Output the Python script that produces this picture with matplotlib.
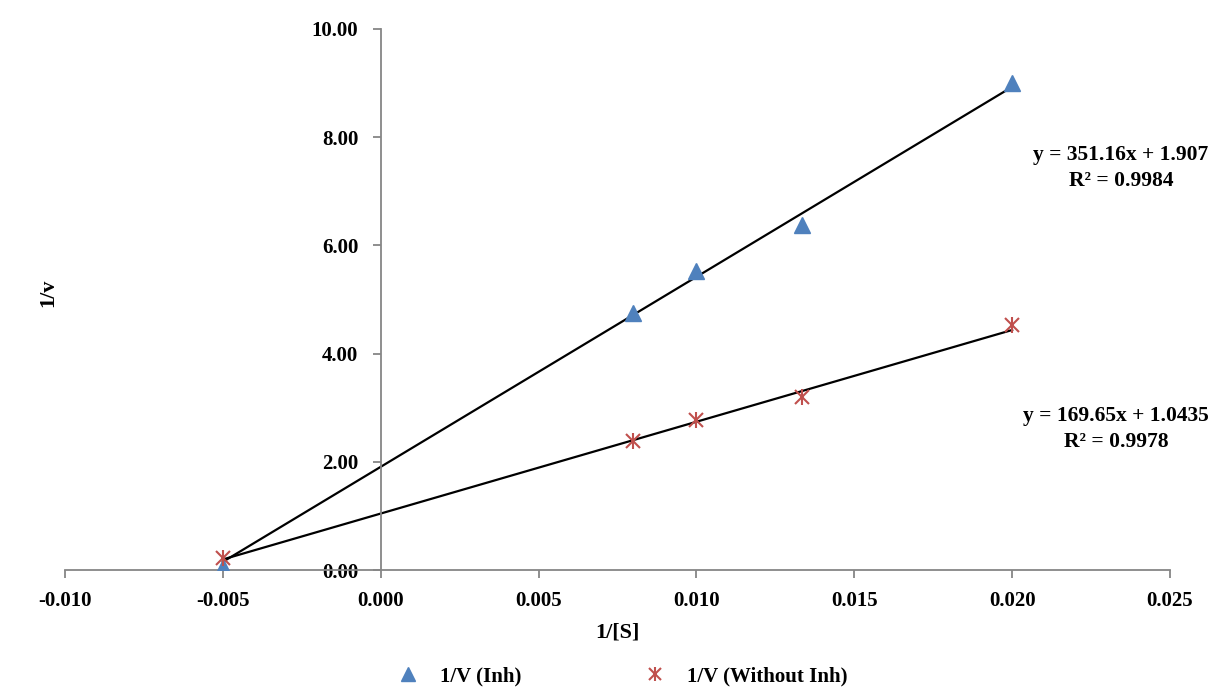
import matplotlib
matplotlib.use("Agg")
import matplotlib.pyplot as plt
import numpy as np
from matplotlib.legend_handler import HandlerTuple

# Data
inv_s = [-0.005, 0.008, 0.010, 0.01333, 0.020]
inv_v_inh = [0.05, 4.75, 5.52, 6.37, 9.00]
inv_v_without = [0.23, 2.39, 2.78, 3.19, 4.52]
fit_inh = (351.16, 1.907)
fit_without = (169.65, 1.0435)
eq_inh = "y = 351.16x + 1.907\nR² = 0.9984"
eq_without = "y = 169.65x + 1.0435\nR² = 0.9978"
x_ticks = [-0.010, -0.005, 0.000, 0.005, 0.010, 0.015, 0.020, 0.025]
y_ticks = [0, 2, 4, 6, 8, 10]

plt.rcParams['font.family'] = ['Liberation Serif', 'DejaVu Serif']
plt.rcParams['font.weight'] = 'bold'

fig = plt.figure(figsize=(12.12, 6.88), dpi=100)
ax = fig.add_axes([65/1212, 1-570/688, (1170-65)/1212, (570-29)/688])

blue = '#4F81BD'
red = '#C0504D'
axc = '#868686'

xf = np.array([min(inv_s), max(inv_s)])
ax.plot(xf, fit_inh[0]*xf + fit_inh[1], color='black', lw=1.6, zorder=2)
ax.plot(xf, fit_without[0]*xf + fit_without[1], color='black', lw=1.6, zorder=2)

h1, = ax.plot(inv_s, inv_v_inh, linestyle='none', marker='^', ms=12, color=blue, mec=blue, zorder=3)
h2a, = ax.plot(inv_s, inv_v_without, linestyle='none', marker='x', ms=10, mew=1.5, color=red, zorder=4, clip_on=False)
h2b, = ax.plot(inv_s, inv_v_without, linestyle='none', marker='|', ms=12, mew=1.5, color=red, zorder=4, clip_on=False)

ax.set_xlim(-0.010, 0.025)
ax.set_ylim(0, 10)
ax.set_xticks(x_ticks)
ax.set_xticklabels([f"{t:.3f}" for t in x_ticks])
ax.set_yticks(y_ticks)
ax.set_yticklabels([f"{t:.2f}" for t in y_ticks])

for s in ['top', 'right']:
    ax.spines[s].set_visible(False)
ax.spines['left'].set_position(('data', 0))
ax.spines['bottom'].set_position(('data', 0))
for s in ['left', 'bottom']:
    ax.spines[s].set_color(axc)
    ax.spines[s].set_linewidth(1.3)
ax.tick_params(axis='both', colors=axc, labelcolor='black', labelsize=15, width=1.3, length=6, direction='out')
ax.tick_params(axis='x', pad=9)
ax.tick_params(axis='y', pad=10)
for lab in ax.get_xticklabels() + ax.get_yticklabels():
    lab.set_fontweight('bold')

fig.text(617/1212, 1-632/688, "1/[S]", ha='center', va='center', fontsize=16, fontweight='bold')
fig.text(48/1212, 1-293/688, "1/v", ha='center', va='center', rotation=90, fontsize=16, fontweight='bold')

fig.text(1121/1212, 1-168/688, eq_inh, ha='center', va='center', fontsize=15.5, fontweight='bold', linespacing=1.45)
fig.text(1116/1212, 1-429/688, eq_without, ha='center', va='center', fontsize=15.5, fontweight='bold', linespacing=1.45)

leg = fig.legend([h1, (h2a, h2b)], ["1/V (Inh)", "1/V (Without Inh)"],
                 handler_map={tuple: HandlerTuple(ndivide=1, pad=0)},
                 loc='center', bbox_to_anchor=(620/1212, 1-676/688), ncol=2, frameon=False,
                 prop={'size': 15, 'weight': 'bold'}, markerscale=0.8, columnspacing=5.7,
                 handlelength=1.5, handletextpad=0.75)

fig.savefig("out.png", dpi=100)
